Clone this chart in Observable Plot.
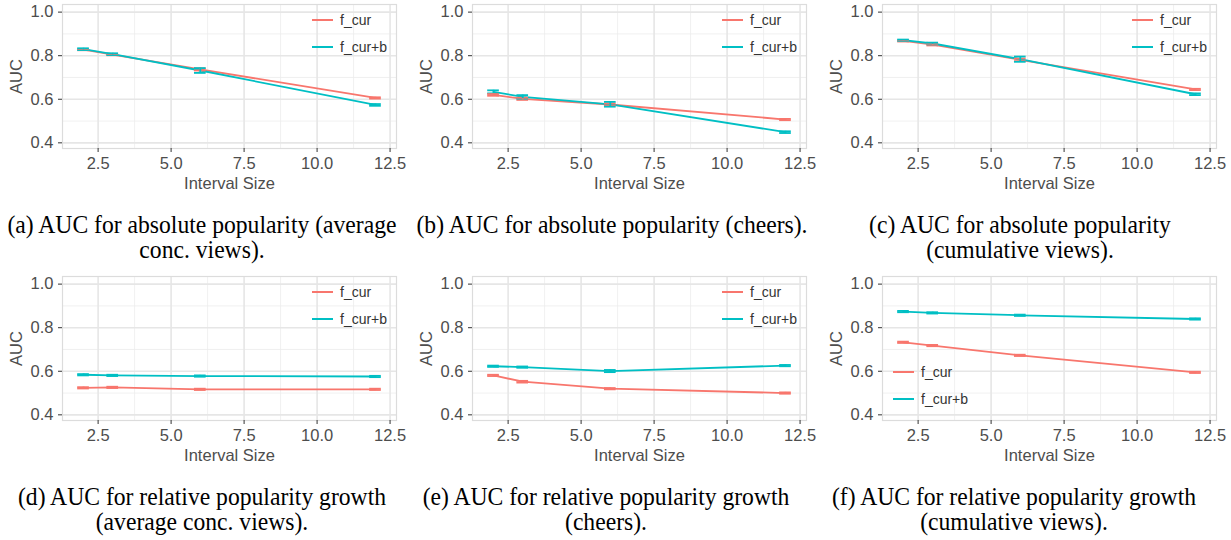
<!DOCTYPE html>
<html><head><meta charset="utf-8">
<script src="https://cdn.jsdelivr.net/npm/d3@7"></script>
<script src="https://cdn.jsdelivr.net/npm/@observablehq/plot@0.6"></script>
<style>
body{margin:0;background:#fff;}
#root{position:relative;width:1231px;height:540px;overflow:hidden;font-family:"Liberation Sans",Arial,sans-serif;background:#fff;}
.panel{position:absolute;}
.caption{position:absolute;width:420px;text-align:center;font-family:"Liberation Serif","Times New Roman",serif;font-size:25px;line-height:25px;color:#000;white-space:nowrap;transform:scaleX(0.945);transform-origin:center top;}
.lg{position:absolute;display:flex;align-items:center;white-space:nowrap;font-size:14px;color:#333;height:16px;}
.lg .sw{display:inline-block;width:21px;height:2px;margin-right:7px;}
</style></head><body><div id="root"></div>
<script>
// ---- data ----
const intervals = [2, 3, 6, 12];
const seriesNames = ["f_cur", "f_cur+b"];
const xTicks = [2.5, 5, 7.5, 10, 12.5];
const xMinor = [3.75, 6.25, 8.75, 11.25];
const yTicks = [0.4, 0.6, 0.8, 1.0];
const yMinor = [0.5, 0.7, 0.9];

// (a) absolute popularity, average conc. views
const aFcur = [0.828, 0.805, 0.737, 0.606];
const aFcurB = [0.830, 0.807, 0.732, 0.574];
const aErrCur = [0.003, 0.003, 0.005, 0.003];
const aErrCurB = [0.004, 0.004, 0.011, 0.004];
// (b) absolute popularity, cheers
const bFcur = [0.620, 0.602, 0.576, 0.507];
const bFcurB = [0.634, 0.611, 0.577, 0.449];
const bErrCur = [0.004, 0.005, 0.005, 0.003];
const bErrCurB = [0.007, 0.008, 0.011, 0.004];
// (c) absolute popularity, cumulative views
const cFcur = [0.868, 0.851, 0.781, 0.645];
const cFcurB = [0.871, 0.856, 0.784, 0.623];
const cErrCur = [0.003, 0.004, 0.006, 0.003];
const cErrCurB = [0.003, 0.004, 0.012, 0.004];
// (d) relative growth, average conc. views
const dFcur = [0.524, 0.526, 0.517, 0.517];
const dFcurB = [0.584, 0.581, 0.578, 0.576];
const dErrCur = [0.003, 0.003, 0.003, 0.003];
const dErrCurB = [0.003, 0.003, 0.003, 0.003];
// (e) relative growth, cheers
const eFcur = [0.581, 0.552, 0.520, 0.500];
const eFcurB = [0.623, 0.619, 0.601, 0.626];
const eErrCur = [0.003, 0.004, 0.003, 0.003];
const eErrCurB = [0.003, 0.003, 0.005, 0.003];
// (f) relative growth, cumulative views
const fFcur = [0.733, 0.718, 0.673, 0.595];
const fFcurB = [0.874, 0.868, 0.857, 0.840];
const fErrCur = [0.003, 0.003, 0.003, 0.003];
const fErrCurB = [0.003, 0.003, 0.003, 0.003];

const captions = [
  ["(a) AUC for absolute popularity (average", "conc. views)."],
  ["(b) AUC for absolute popularity (cheers)."],
  ["(c) AUC for absolute popularity", "(cumulative views)."],
  ["(d) AUC for relative popularity growth", "(average conc. views)."],
  ["(e) AUC for relative popularity growth", "(cheers)."],
  ["(f) AUC for relative popularity growth", "(cumulative views)."]
];

// ---- styles ----
const colors = ["#F8766D", "#00BFC4"];
const panels = [
  {cur: aFcur, curB: aFcurB, eCur: aErrCur, eCurB: aErrCurB, left: 0, top: 0, legend: "tr", capX: 202},
  {cur: bFcur, curB: bFcurB, eCur: bErrCur, eCurB: bErrCurB, left: 410, top: 0, legend: "tr", capX: 612},
  {cur: cFcur, curB: cFcurB, eCur: cErrCur, eCurB: cErrCurB, left: 820, top: 0, legend: "tr", capX: 1020},
  {cur: dFcur, curB: dFcurB, eCur: dErrCur, eCurB: dErrCurB, left: 0, top: 272, legend: "tr", capX: 202},
  {cur: eFcur, curB: eFcurB, eCur: eErrCur, eCurB: eErrCurB, left: 410, top: 272, legend: "tr", capX: 606},
  {cur: fFcur, curB: fFcurB, eCur: fErrCur, eCurB: fErrCurB, left: 820, top: 272, legend: "bl", capX: 1014}
];
const capTop = [212, 484];
const halfW = 0.2;

const root = document.getElementById("root");

function makePanel(p) {
  const data = [];
  intervals.forEach((x, i) => data.push({interval: x, auc: p.cur[i], err: p.eCur[i], series: seriesNames[0]}));
  intervals.forEach((x, i) => data.push({interval: x, auc: p.curB[i], err: p.eCurB[i], series: seriesNames[1]}));
  const svg = Plot.plot({
    width: 410, height: 195,
    marginLeft: 62, marginRight: 14, marginTop: 4, marginBottom: 47,
    x: {domain: [1.28, 12.72]},
    y: {domain: [0.374, 1.035]},
    color: {domain: seriesNames, range: colors},
    style: {fontFamily: '"Liberation Sans", Arial, sans-serif', color: "#4d4d4d", background: "#fff"},
    marks: [
      Plot.gridX(xMinor, {stroke: "#ececec", strokeOpacity: 1, strokeWidth: 0.8}),
      Plot.gridY(yMinor, {stroke: "#ececec", strokeOpacity: 1, strokeWidth: 0.8}),
      Plot.gridX(xTicks, {stroke: "#e6e6e6", strokeOpacity: 1, strokeWidth: 1.6}),
      Plot.gridY(yTicks, {stroke: "#e6e6e6", strokeOpacity: 1, strokeWidth: 1.6}),
      Plot.frame({stroke: "#dcdcdc", strokeWidth: 1.2}),
      Plot.axisX({ticks: xTicks, tickFormat: d3.format(".1f"), tickSize: 4, tickPadding: 5, fontSize: 16.5,
        label: "Interval Size", labelAnchor: "center", labelArrow: "none", labelOffset: 40, stroke: "#333"}),
      Plot.axisY({ticks: yTicks, tickFormat: d3.format(".1f"), tickSize: 4, tickPadding: 5, fontSize: 16.5,
        label: "AUC", labelAnchor: "center", labelArrow: "none", labelOffset: 52, stroke: "#333"}),
      Plot.line(data, {x: "interval", y: "auc", z: "series", stroke: "series", strokeWidth: 1.8}),
      Plot.ruleY(data, {x1: d => d.interval - halfW, x2: d => d.interval + halfW, y: d => d.auc - d.err, stroke: "series", strokeWidth: 1.8}),
      Plot.ruleY(data, {x1: d => d.interval - halfW, x2: d => d.interval + halfW, y: d => d.auc + d.err, stroke: "series", strokeWidth: 1.8}),
      Plot.ruleX(data, {x: "interval", y1: d => d.auc - d.err, y2: d => d.auc + d.err, stroke: "series", strokeWidth: 1.8})
    ]
  });
  const wrap = document.createElement("div");
  wrap.className = "panel";
  wrap.style.left = p.left + "px";
  wrap.style.top = p.top + "px";
  wrap.appendChild(svg);
  // legend
  const pos = p.legend === "tr" ? {x: 312, ys: [12, 39]} : {x: 73, ys: [92, 119]};
  seriesNames.forEach((s, i) => {
    const row = document.createElement("div");
    row.className = "lg";
    row.style.left = pos.x + "px";
    row.style.top = pos.ys[i] + "px";
    const sw = document.createElement("span");
    sw.className = "sw";
    sw.style.background = colors[i];
    row.appendChild(sw);
    row.appendChild(document.createTextNode(s));
    wrap.appendChild(row);
  });
  root.appendChild(wrap);
}

panels.forEach((p, k) => {
  makePanel(p);
  const cap = document.createElement("div");
  cap.className = "caption";
  cap.style.left = (p.capX - 210) + "px";
  cap.style.top = capTop[p.top === 0 ? 0 : 1] + "px";
  captions[k].forEach((line, j) => {
    if (j) cap.appendChild(document.createElement("br"));
    cap.appendChild(document.createTextNode(line));
  });
  root.appendChild(cap);
});
</script></body></html>
